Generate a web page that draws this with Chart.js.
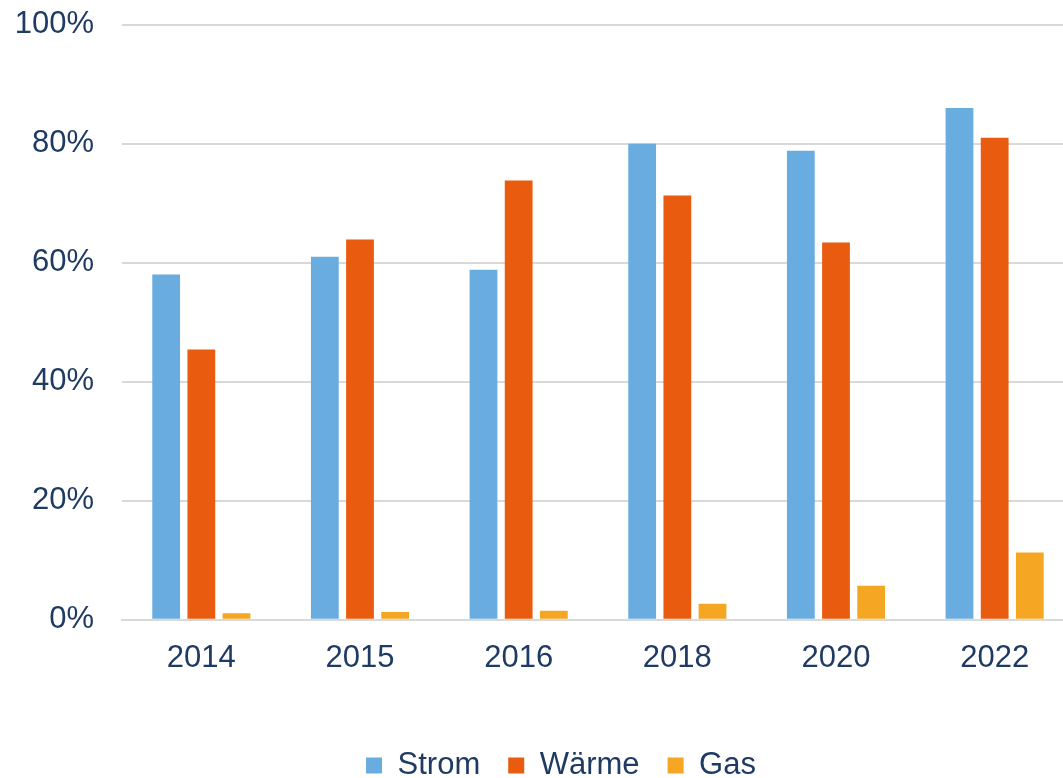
<!DOCTYPE html>
<html>
<head>
<meta charset="utf-8">
<script src="https://cdn.jsdelivr.net/npm/chart.js@4"></script>
<style>
  html, body { margin: 0; padding: 0; background: #fff; overflow: hidden; }
  #wrap { width: 1063px; height: 778px; overflow: hidden; }
  #box { width: 1122px; height: 813px; margin-top: -22px; }
</style>
</head>
<body>
<div id="wrap"><div id="box"><canvas id="bar-chart"></canvas></div></div>
<script>
const years = ['2014', '2015', '2016', '2018', '2020', '2022'];
const strom = [58.0, 61.0, 58.8, 80.0, 78.8, 86.0];
const waerme = [45.4, 63.9, 73.8, 71.3, 63.4, 81.0];
const gas = [1.1, 1.3, 1.5, 2.7, 5.7, 11.3];
const yTicks = [0, 20, 40, 60, 80, 100];

const textColor = '#1F3B63';
const font = { family: "'Liberation Sans', Arial, sans-serif", size: 31 };

const config = {
  type: 'bar',
  data: {
    labels: years,
    datasets: [
      { label: 'Strom', data: strom, backgroundColor: '#69ACDF' },
      { label: 'Wärme', data: waerme, backgroundColor: '#E95B0F' },
      { label: 'Gas', data: gas, backgroundColor: '#F5A623' },
    ],
  },
  options: {
    responsive: true,
    maintainAspectRatio: false,
    animation: false,
    datasets: { bar: { categoryPercentage: 0.665, barPercentage: 0.79 } },
    layout: { padding: 0 },
    scales: {
      x: {
        afterFit: (s) => { s.height += 33; },
        grid: { display: false },
        border: { color: '#D9D9D9', width: 2 },
        ticks: { color: textColor, font: font, padding: 12, maxRotation: 0 },
      },
      y: {
        min: 0,
        max: 100,
        afterBuildTicks: (s) => { s.ticks = yTicks.map(v => ({ value: v })); },
        afterFit: (s) => { s.width = 122; },
        grid: { color: '#D9D9D9', lineWidth: 2, drawTicks: false },
        border: { display: false },
        ticks: { color: textColor, font: font, padding: 28, callback: (v) => v + '%' },
      },
      // empty axis on the right, only to reserve space
      y2: {
        position: 'right',
        min: 0,
        max: 100,
        afterFit: (s) => { s.width = 48; },
        grid: { display: false },
        border: { display: false },
        ticks: { display: false },
      },
    },
    plugins: {
      legend: {
        position: 'bottom',
        labels: {
          color: textColor,
          font: font,
          boxWidth: 16,
          boxHeight: 16,
          padding: 28,
        },
      },
      tooltip: { enabled: false },
    },
  },
};

const canvas = document.getElementById('bar-chart');
if (canvas) {
  const ctx = canvas.getContext('2d');
  window.myBar = new Chart(ctx, config);
}
</script>
</body>
</html>
